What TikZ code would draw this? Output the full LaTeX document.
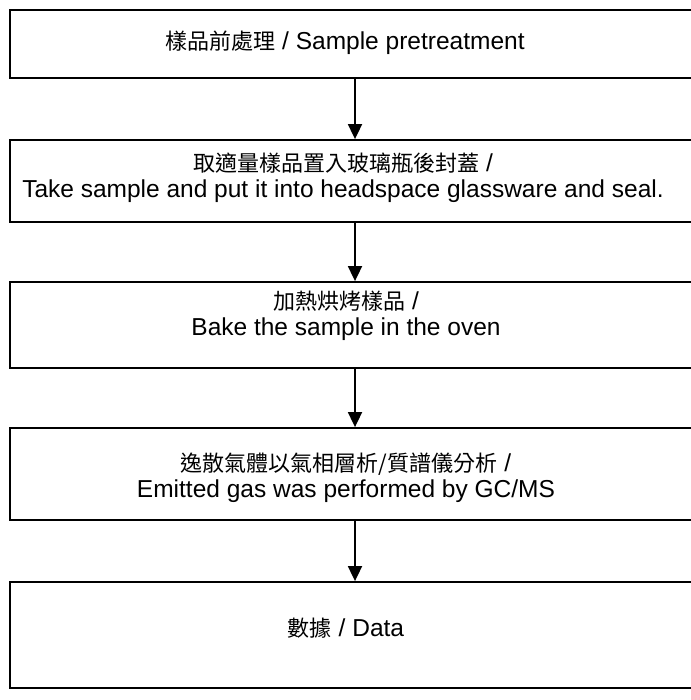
\documentclass[tikz,border=0pt]{standalone}
\usepackage{fontspec}
\setmainfont{Liberation Sans}
\newfontfamily\zhfont{Noto Sans CJK TC}
\newcommand{\zh}[1]{{\zhfont\fontsize{22}{26}\selectfont #1}}
\usetikzlibrary{arrows.meta}

\begin{document}
\begin{tikzpicture}[x=1pt,y=-1pt,
        stepbox/.style={draw,line width=1.8pt,rectangle,minimum width=690pt,inner sep=0pt},
        steptext/.style={align=center,inner sep=0pt,font=\fontsize{24.5}{26}\selectfont},
        flow/.style={-{Triangle[length=15pt,width=14pt]},line width=1.8pt}]
        \useasboundingbox (0,0) rectangle (690,700);

        %%%%%%%%%% Boxes %%%%%%%%%%
        \node[stepbox,minimum height=68pt] (pretreat) at (355,44) {};
        \node[stepbox,minimum height=82pt] (seal) at (355,181) {};
        \node[stepbox,minimum height=86pt] (bake) at (355,325) {};
        \node[stepbox,minimum height=92pt] (gcms) at (355,474) {};
        \node[stepbox,minimum height=106pt] (data) at (355,635) {};

        %%%%%%%%%% Texts %%%%%%%%%%
        \node[steptext] (pretreattxt) at (345,43) {\zh{樣品前處理} / Sample pretreatment};
        \node[steptext] (sealtxt) at (343,178) {\zh{取適量樣品置入玻璃瓶後封蓋} /\\Take sample and put it into headspace glassware and seal.};
        \node[steptext] (baketxt) at (346,316) {\zh{加熱烘烤樣品} /\\Bake the sample in the oven};
        \node[steptext] (gcmstxt) at (346,478) {\zh{逸散氣體以氣相層析/質譜儀分析} /\\Emitted gas was performed by GC/MS};
        \node[steptext] (datatxt) at (346,628) {\zh{數據} / Data};

        %%%%%%%%% Arrows %%%%%%%%%
        \draw[flow] (pretreat) -- (seal);
        \draw[flow] (seal) -- (bake);
        \draw[flow] (bake) -- (gcms);
        \draw[flow] (gcms) -- (data);
    \end{tikzpicture}
\end{document}
